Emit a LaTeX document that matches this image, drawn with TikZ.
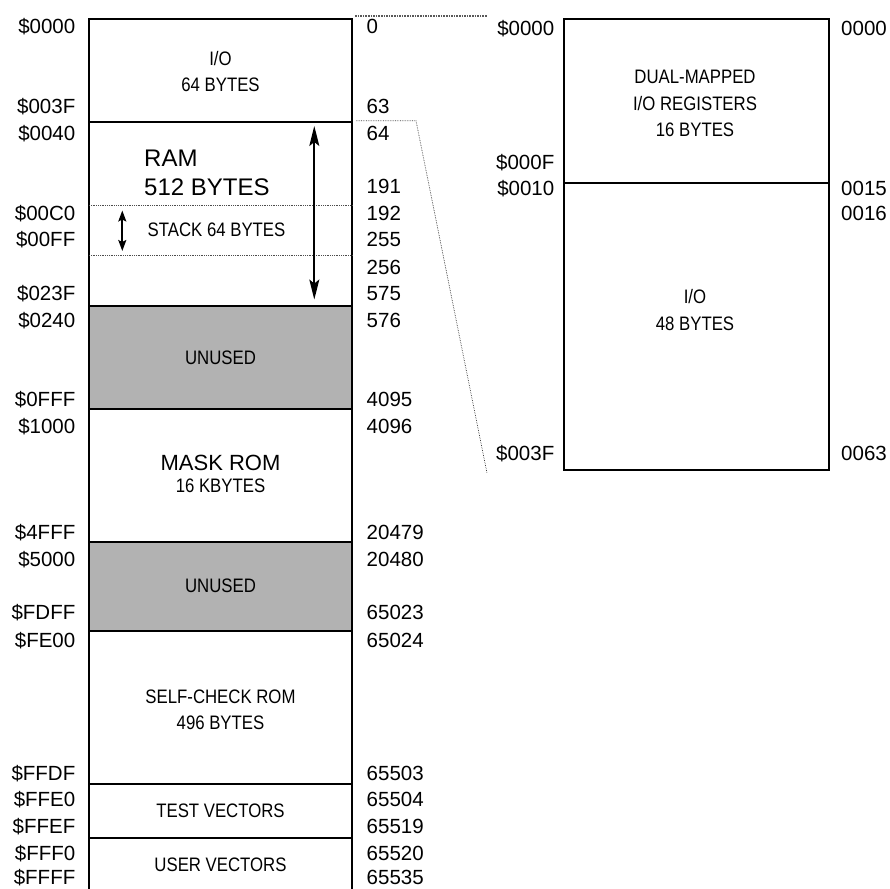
\documentclass[tikz,border=0pt]{standalone}
\usepackage{fontspec}
\setmainfont{Liberation Sans}
\newfontfamily\narrowf[FakeStretch=0.86]{Liberation Sans}
\usetikzlibrary{arrows.meta}
\tikzset{
  lbl/.style={font=\fontsize{20.5}{22}\selectfont, inner sep=0pt},
  addr/.style={lbl, anchor=base east},
  dec/.style={lbl, anchor=base west},
  boxtxt/.style={font=\narrowf\fontsize{19.5}{26.5}\selectfont, align=center, inner sep=0pt},
  frame/.style={line width=2pt},
  sep/.style={line width=2pt},
  dotsep/.style={densely dotted, line width=0.8pt, black!70},
  zoomline/.style={densely dotted, line width=0.7pt, black!75},
  unused/.style={fill=black!30},
  bigarrow/.style={line width=1.7pt, {Stealth[length=20pt,width=10pt,inset=4pt]}-{Stealth[length=20pt,width=10pt,inset=4pt]}},
  smallarrow/.style={line width=1.7pt, {Stealth[length=11pt,width=8pt,inset=2pt]}-{Stealth[length=11pt,width=8pt,inset=2pt]}}
}
\begin{document}
\begin{tikzpicture}[x=1pt,y=-1pt]
\useasboundingbox (0,0) rectangle (890,888);
% ---------- left memory map ----------
\fill[unused] (89,305.7) rectangle (352,408.7);
\fill[unused] (89,541.7) rectangle (352,631);
\draw[frame] (89,890) -- (89,19) -- (352,19) -- (352,890);
\foreach \yy in {121.7,305.7,408.7,541.7,631,784.3,837.7}
  \draw[sep] (89,\yy) -- (352,\yy);
\draw[dotsep] (89,205.7) -- (352,205.7);
\draw[dotsep] (89,255) -- (352,255);

% region texts
\node[boxtxt] (tio) at (220.5,71.5) {I/O\\64 BYTES};
\node[font=\fontsize{24}{28.5}\selectfont, align=left, inner sep=0pt, anchor=west] (tram) at (144,173) {RAM\\512 BYTES};
\node[boxtxt, anchor=west] (tstack) at (147.5,229.5) {STACK 64 BYTES};
\node[boxtxt] (tun1) at (220.5,357.3) {UNUSED};
\node[font=\fontsize{22}{23}\selectfont, inner sep=0pt] (tmask) at (220.5,463.3) {MASK ROM};
\node[boxtxt] (tmask2) at (220.5,486) {16 KBYTES};
\node[boxtxt] (tun2) at (220.5,586) {UNUSED};
\node[boxtxt] (tself) at (220.5,710) {SELF-CHECK ROM\\496 BYTES};
\node[boxtxt] (ttest) at (220.5,811) {TEST VECTORS};
\node[boxtxt] (tuser) at (220.5,864.3) {USER VECTORS};

% arrows
\coordinate (ramtop) at (314.3,126);
\coordinate (rambot) at (314.3,299.5);
\draw[bigarrow] (ramtop) -- (rambot);
\coordinate (stktop) at (122.3,210.5);
\coordinate (stkbot) at (122.3,251);
\draw[smallarrow] (stktop) -- (stkbot);

% hex addresses
\foreach \t/\yy in {\$0000/26.7, \$003F/106, \$0040/133, \$00C0/213, \$00FF/239, \$023F/293,
  \$0240/320, \$0FFF/399.3, \$1000/425.7, \$4FFF/532.3, \$5000/559.3, \$FDFF/612.3,
  \$FE00/640, \$FFDF/772.7, \$FFE0/799.3, \$FFEF/826, \$FFF0/852.7, \$FFFF/877.3}
  \node[addr] (h\yy) at (75.5,\yy+7.3) {\t};
% decimal addresses
\foreach \t/\yy in {0/26.7, 63/106, 64/133, 191/186, 192/213, 255/239, 256/266.7, 575/293,
  576/320, 4095/399.3, 4096/425.7, 20479/532.3, 20480/559.3, 65023/612.3,
  65024/640, 65503/772.7, 65504/799.3, 65519/826, 65520/852.7, 65535/877.3}
  \node[dec] (d\t) at (366.5,\yy+7.3) {\t};

% ---------- right expanded map ----------
\draw[frame] (564,19) rectangle (829,470);
\draw[sep] (564,182.7) -- (829,182.7);
\node[boxtxt] (tdual) at (695,103.5) {DUAL-MAPPED\\I/O REGISTERS\\16 BYTES};
\node[boxtxt] (tio48) at (695,310) {I/O\\48 BYTES};
\node[addr] (r1) at (554.5,28.3+7.3) {\$0000};
\node[addr] (r2) at (554.5,162.3+7.3) {\$000F};
\node[addr] (r3) at (554.5,187.7+7.3) {\$0010};
\node[addr] (r4) at (554.5,453.3+7.3) {\$003F};
\node[dec] (q1) at (841,28.3+7.3) {0000};
\node[dec] (q2) at (841,187.7+7.3) {0015};
\node[dec] (q3) at (841,213.3+7.3) {0016};
\node[dec] (q4) at (841,453.3+7.3) {0063};

% ---------- zoom connectors ----------
\coordinate (za) at (355,16);
\coordinate (zb) at (487,16);
\draw[zoomline, line width=1.6pt, black!65] (za) -- (zb);
\coordinate (zc) at (356,120.7);
\coordinate (zd) at (416,120.7);
\coordinate (ze) at (487,473);
\draw[zoomline] (zc) -- (zd) -- (ze);
\end{tikzpicture}
\end{document}
